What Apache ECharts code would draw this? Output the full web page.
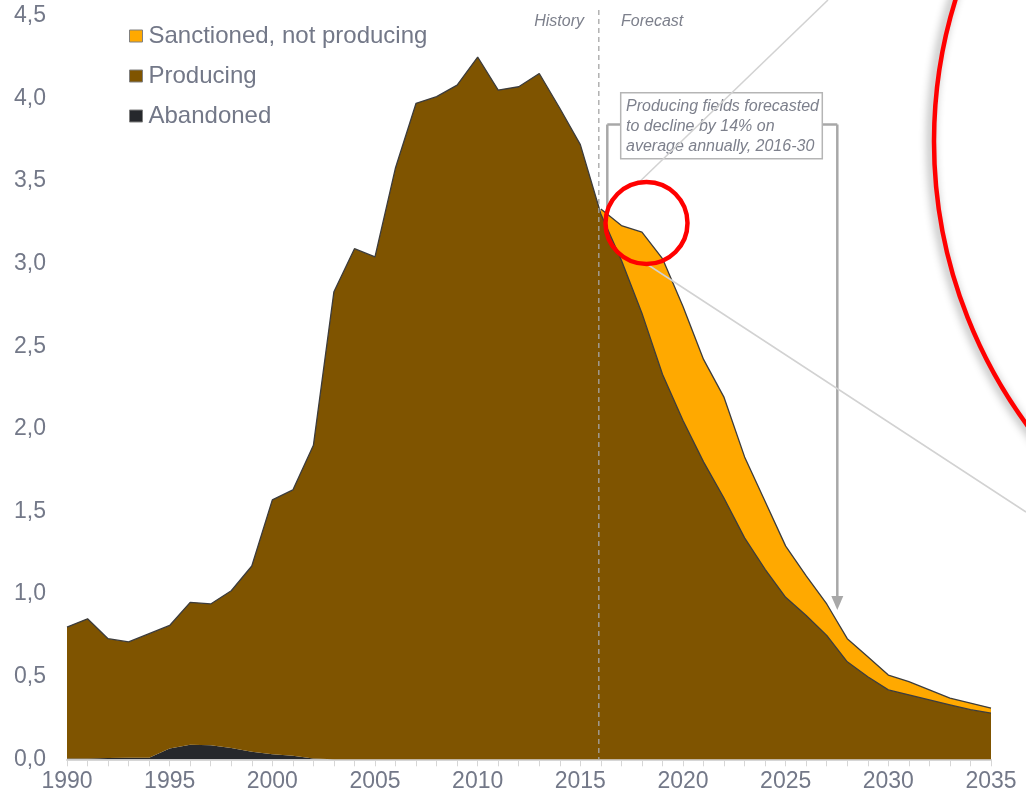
<!DOCTYPE html>
<html><head><meta charset="utf-8">
<script src="https://cdn.jsdelivr.net/npm/echarts@6/dist/echarts.min.js"></script>
<style>html,body{margin:0;padding:0;background:#fff}#c{width:1026px;height:802px}</style>
</head><body><div id="c"></div>
<script>
const years = ['1990','1991','1992','1993','1994','1995','1996','1997','1998','1999',
  '2000','2001','2002','2003','2004','2005','2006','2007','2008','2009',
  '2010','2011','2012','2013','2014','2015','2016','2017','2018','2019',
  '2020','2021','2022','2023','2024','2025','2026','2027','2028','2029',
  '2030','2031','2032','2033','2034','2035'];
const abandoned = [0.005,0.005,0.008,0.01,0.01,0.065,0.088,0.085,0.068,0.045,
  0.03,0.022,0.005,0,0,0,0,0,0,0,
  0,0,0,0,0,0,0,0,0,0,
  0,0,0,0,0,0,0,0,0,0,
  0,0,0,0,0,0];
const producing = [0.795,0.845,0.722,0.70,0.75,0.745,0.862,0.855,0.952,1.125,
  1.54,1.608,1.895,2.83,3.09,3.04,3.58,3.97,4.01,4.08,
  4.25,4.05,4.07,4.15,3.94,3.72,3.30,3.02,2.70,2.33,
  2.05,1.80,1.58,1.34,1.15,0.98,0.87,0.75,0.59,0.50,
  0.42,0.39,0.36,0.33,0.30,0.28];
const sanctioned = ['-','-','-','-','-','-','-','-','-','-',
  '-','-','-','-','-','-','-','-','-','-',
  '-','-','-','-','-','-',0.03,0.21,0.49,0.70,
  0.69,0.62,0.61,0.49,0.41,0.31,0.24,0.19,0.14,0.12,
  0.09,0.08,0.06,0.04,0.04,0.03];
const seriesNames = ['Abandoned','Producing','Sanctioned, not producing'];
const legendOrder = ['Sanctioned, not producing','Producing','Abandoned'];
const yTicks = {min:0, max:4.5, interval:0.5};
const annotationLines = ['Producing fields forecasted','to decline by 14% on','average annually, 2016-30'];

const FONT = '"Liberation Sans", Arial, sans-serif';
const TXT = '#737888';
const chart = echarts.init(document.getElementById('c'));
const edge = {color:'#3c3c3c', width:1.3};
chart.setOption({
  animation:false,
  backgroundColor:'#fff',
  grid:{left:67, right:35, top:15.7, bottom:42.7},
  legend:{
    data:legendOrder, orient:'vertical', left:124, top:19,
    itemWidth:13, itemHeight:12, itemGap:16,
    icon:'rect',
    itemStyle:{borderColor:'#808080', borderWidth:1},
    textStyle:{fontSize:24, color:TXT, fontFamily:FONT, padding:[0,0,0,1]},
    selectedMode:false
  },
  xAxis:{
    type:'category', data:years, boundaryGap:false,
    axisLine:{lineStyle:{color:'#d6d6d6', width:2}},
    axisTick:{show:true, interval:0, length:7, lineStyle:{color:'#d6d6d6', width:1}},
    axisLabel:{interval:4, fontSize:23, color:TXT, fontFamily:FONT, margin:11},
    splitLine:{show:false}
  },
  yAxis:{
    type:'value', min:yTicks.min, max:yTicks.max, interval:yTicks.interval,
    axisLine:{show:false}, axisTick:{show:false}, splitLine:{show:false},
    axisLabel:{fontSize:23, color:TXT, fontFamily:FONT, margin:21,
      formatter:v=>v.toFixed(1).replace('.',',')}
  },
  series:[
    {name:seriesNames[0], type:'line', stack:'t', data:abandoned, symbol:'none',
     lineStyle:{width:0}, itemStyle:{color:'#26282c'}, areaStyle:{color:'#26282c', opacity:1}, z:2},
    {name:seriesNames[1], type:'line', stack:'t', data:producing, symbol:'none',
     lineStyle:edge, itemStyle:{color:'#7f5400'}, areaStyle:{color:'#7f5400', opacity:1}, z:3},
    {name:seriesNames[2], type:'line', stack:'t', data:sanctioned, symbol:'none',
     lineStyle:edge, itemStyle:{color:'#ffa900'}, areaStyle:{color:'#ffa900', opacity:1}, z:1}
  ]
});

const p15 = chart.convertToPixel({xAxisIndex:0}, '2015');
const p16 = chart.convertToPixel({xAxisIndex:0}, '2016');
const xDiv = p15 + 0.9*(p16-p15);
const y0 = chart.convertToPixel({yAxisIndex:0}, 0);
const G = '#a8a8a8';
chart.setOption({graphic:[
  {type:'line', z:0, shape:{x1:607.3,y1:124.5,x2:607.3,y2:330}, style:{stroke:G, lineWidth:2.5}},
  {type:'line', z:0, shape:{x1:607.3,y1:124.5,x2:621,y2:124.5}, style:{stroke:G, lineWidth:2.5}},
  {type:'line', z:100, shape:{x1:xDiv,y1:10,x2:xDiv,y2:y0}, style:{stroke:'#a5a5a5', lineWidth:1.3, lineDash:[5,4]}},
  {type:'text', z:100, style:{text:'History', x:584, y:22, align:'right', verticalAlign:'middle', font:'italic 16px '+FONT, fill:'#7d808c'}},
  {type:'text', z:100, style:{text:'Forecast', x:621, y:22, align:'left', verticalAlign:'middle', font:'italic 16px '+FONT, fill:'#7d808c'}},
  {type:'line', z:100, shape:{x1:822,y1:124.5,x2:837.3,y2:124.5}, style:{stroke:G, lineWidth:2.5}},
  {type:'line', z:100, shape:{x1:837.3,y1:124.5,x2:837.3,y2:598}, style:{stroke:G, lineWidth:2.5}},
  {type:'polygon', z:100, shape:{points:[[831.3,596],[843.3,596],[837.3,610]]}, style:{fill:G}},
  {type:'rect', z:100, shape:{x:620.7,y:92.7,width:201.6,height:66}, style:{fill:'#fff', stroke:'#b5b5b5', lineWidth:1.5}},
  {type:'text', z:101, style:{text:annotationLines.join('\n'), x:626, y:97, lineHeight:20, font:'italic 16px '+FONT, fill:'#7d808c'}},
  {type:'line', z:102, shape:{x1:639.3,y1:182,x2:828,y2:0}, style:{stroke:'#d2d2d2', lineWidth:1.5}},
  {type:'line', z:102, shape:{x1:646.7,y1:264,x2:1026,y2:512}, style:{stroke:'#d2d2d2', lineWidth:1.5}},
  {type:'circle', z:103, shape:{cx:646.5,cy:223,r:41}, style:{fill:null, stroke:'#ff0000', lineWidth:4.5}},
  {type:'circle', z:103, shape:{cx:1412,cy:141.5,r:478}, style:{fill:null, stroke:'#ff0000', lineWidth:4.5, shadowBlur:10, shadowColor:'rgba(0,0,0,0.45)', shadowOffsetX:-3}}
]});
</script></body></html>
